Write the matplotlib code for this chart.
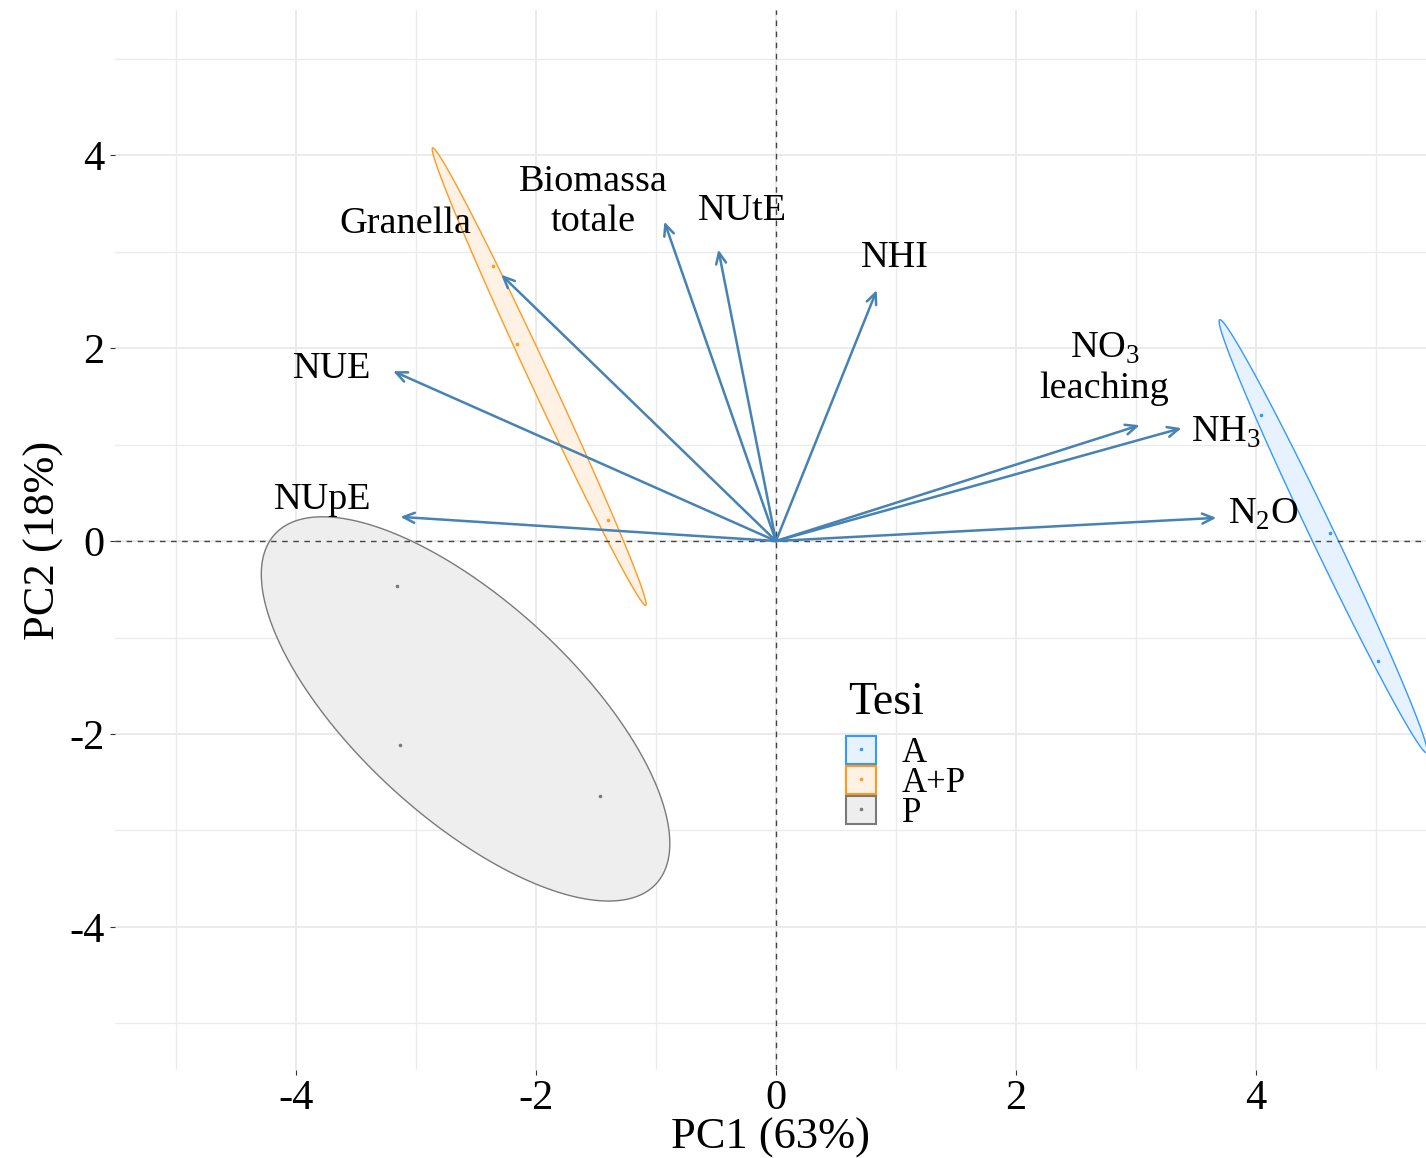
import numpy as np
import matplotlib
matplotlib.use('Agg')
import matplotlib.pyplot as plt
from matplotlib.patches import Patch
from matplotlib.lines import Line2D
from matplotlib.ticker import MultipleLocator

plt.rcParams['font.family'] = ['Liberation Serif', 'DejaVu Serif']
plt.rcParams['mathtext.fontset'] = 'custom'
plt.rcParams['mathtext.rm'] = 'Liberation Serif'
plt.rcParams['axes.unicode_minus'] = False

# Variable loadings (arrow tips on PC1 / PC2)
var_names = ['NUpE', 'NUE', 'Granella', 'Biomassa\ntotale', 'NUtE', 'NHI',
             'NO$_\\mathregular{3}$\nleaching', 'NH$_\\mathregular{3}$', 'N$_\\mathregular{2}$O']
var_pc1 = [-3.13, -3.19, -2.29, -0.93, -0.48, 0.84, 3.03, 3.38, 3.67]
var_pc2 = [0.25, 1.76, 2.76, 3.31, 3.02, 2.60, 1.20, 1.17, 0.24]

# Observations (scores) per group of "Tesi"
groups = ['A', 'A+P', 'P']
score_pc1 = {'A': [4.04, 4.62, 5.02], 'A+P': [-2.36, -2.16, -1.40], 'P': [-3.16, -3.13, -1.47]}
score_pc2 = {'A': [1.31, 0.08, -1.24], 'A+P': [2.85, 2.04, 0.22], 'P': [-0.47, -2.11, -2.64]}

# label offsets from arrow tips, in pixels (text baseline, centred)
label_off = [(-78, 8), (-61, -7), (-96, 42), (-71, -9), (24, 30), (18, 23),
             (-35, 27), (44, -14), (47, -6)]

line_col = {'A': '#3399FF', 'A+P': '#FF9A1F', 'P': '#7A7A7A'}
fill_col = {'A': '#E6F2FF', 'A+P': '#FFF1E3', 'P': '#EEEEEE'}
arrow_col = '#4682B4'
ell_scale = 1.76

fig = plt.figure(figsize=(14.26, 11.58), dpi=100)
ax = fig.add_axes([115 / 1426, 88 / 1158, 1311 / 1426, 1060 / 1158])
ax.set_xlim(-5.508, 5.417)
ax.set_ylim(-5.482, 5.503)

for s in ax.spines.values():
    s.set_visible(False)
ax.xaxis.set_major_locator(MultipleLocator(2))
ax.yaxis.set_major_locator(MultipleLocator(2))
ax.xaxis.set_minor_locator(MultipleLocator(1))
ax.yaxis.set_minor_locator(MultipleLocator(1))
ax.grid(which='major', color='#EBEBEB', lw=1.4, zorder=0)
ax.grid(which='minor', color='#EBEBEB', lw=1.0, zorder=0)
ax.set_axisbelow(True)
ax.tick_params(which='major', length=3.5, width=0.8, color='#333333', labelsize=30.5, pad=4)
ax.tick_params(axis='x', which='major', pad=3)
ax.tick_params(which='minor', length=0)

# confidence ellipses from the scores
t = np.linspace(0, 2 * np.pi, 200)
for g in groups:
    pts = np.column_stack([score_pc1[g], score_pc2[g]])
    mu = pts.mean(axis=0)
    cov = np.cov(pts.T)
    w, v = np.linalg.eigh(cov)
    circ = np.vstack([np.cos(t), np.sin(t)])
    ell = (v @ np.diag(np.sqrt(np.clip(w, 0, None))) @ circ).T * ell_scale + mu
    ax.fill(ell[:, 0], ell[:, 1], facecolor=fill_col[g], edgecolor=line_col[g], lw=1.0, zorder=1)
    ax.plot(pts[:, 0], pts[:, 1], ls='', marker='o', ms=1.6, color=line_col[g], zorder=2)

ax.axhline(0, color='#444444', lw=1.0, ls=(0, (4, 4)), zorder=3)
ax.axvline(0, color='#444444', lw=1.0, ls=(0, (4, 4)), zorder=3)

for name, x, y, off in zip(var_names, var_pc1, var_pc2, label_off):
    ax.annotate('', xy=(x, y), xytext=(0, 0),
                arrowprops=dict(arrowstyle='->,head_length=0.4,head_width=0.18', color=arrow_col,
                                lw=1.8, mutation_scale=20, shrinkA=0, shrinkB=0), zorder=4)
    ax.annotate(name, xy=(x, y), xytext=(off[0] * 0.72, off[1] * 0.72), textcoords='offset points',
                ha='center', va='baseline', fontsize=27.5, multialignment='center',
                linespacing=1.2, zorder=5)

ax.set_xlabel('PC1 (63%)', fontsize=32, labelpad=0)
ax.set_ylabel('PC2 (18%)', fontsize=32, labelpad=4)

# legend: title as its own text, keys below it
fig.text(848 / 1426, 1 - 714 / 1158, 'Tesi', fontsize=33, ha='left', va='baseline')
handles = [(Patch(facecolor=fill_col[g], edgecolor=line_col[g], lw=1.5),
            Line2D([], [], ls='', marker='o', ms=1.6, color=line_col[g])) for g in groups]
leg = ax.legend(handles, groups, loc='upper left',
                bbox_to_anchor=(846 / 1426, 1 - 736 / 1158), bbox_transform=fig.transFigure,
                frameon=False, fontsize=25,
                handlelength=0.86, handleheight=0.86, handletextpad=0.75,
                labelspacing=-0.11, borderpad=0, borderaxespad=0)

fig.savefig('out.png', dpi=100)
